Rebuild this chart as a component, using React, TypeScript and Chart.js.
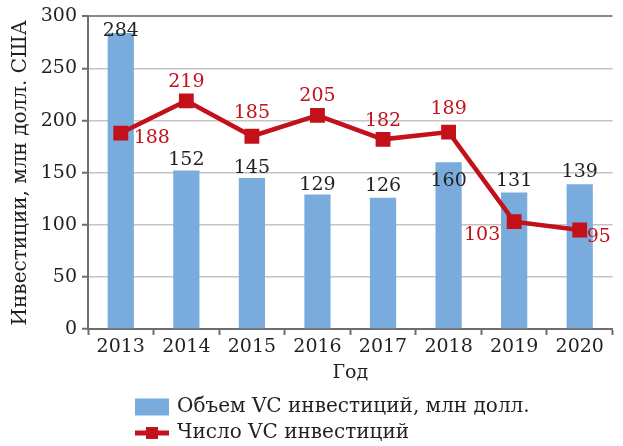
import { useEffect, useRef } from "react";
import { Chart, registerables } from "chart.js";

Chart.register(...registerables);

// ---- data ----
const years = ["2013", "2014", "2015", "2016", "2017", "2018", "2019", "2020"];
const volume = [284, 152, 145, 129, 126, 160, 131, 139];
const counts = [188, 219, 185, 205, 182, 189, 103, 95];
const yMin = 0;
const yMax = 300;
const yStep = 50;
const volumeLabel = "Объем VC инвестиций, млн долл.";
const countLabel = "Число VC инвестиций";
const xTitle = "Год";
const yTitle = "Инвестиции, млн долл. США";

// ---- label placement (style) ----
const barLabelDy = [-2, -11, -10, -10, -12, 19, -11, -12];
const lineLabelOffset: [number, number][] = [
  [31, 5],
  [0, -19],
  [0, -23],
  [0, -19],
  [0, -18],
  [0, -23],
  [-32, 13],
  [19, 7],
];

// ---- styles ----
const FONT = "'DejaVu Serif', serif";
const FS = 19;
const FS_BIG = 20;
const TEXT = "#231f20";
const BLUE = "#79acdd";
const RED = "#c2111b";
const AXIS = "#6d6e71";
const GRID = "#c4c4c4";

const labelPlugin = {
  id: "valueLabels",
  afterDatasetsDraw(chart: any) {
    const ctx = chart.ctx;
    ctx.save();
    ctx.font = `${FS}px ${FONT}`;
    ctx.textBaseline = "middle";
    ctx.textAlign = "center";
    const barMeta = chart.getDatasetMeta(0);
    barMeta.data.forEach((el: any, i: number) => {
      ctx.fillStyle = TEXT;
      ctx.fillText(String(volume[i]), el.x, el.y + barLabelDy[i]);
    });
    const lineMeta = chart.getDatasetMeta(1);
    lineMeta.data.forEach((el: any, i: number) => {
      const [dx, dy] = lineLabelOffset[i];
      ctx.fillStyle = RED;
      ctx.fillText(String(counts[i]), el.x + dx, el.y + dy);
    });
    ctx.restore();
  },
};

const legendPlugin = {
  id: "customLegend",
  afterDraw(chart: any) {
    const ctx = chart.ctx;
    ctx.save();
    ctx.font = `${FS_BIG}px ${FONT}`;
    ctx.textBaseline = "middle";
    ctx.textAlign = "left";
    const x0 = 135;
    const boxW = 34;
    const tx = 177;
    const y1 = 407;
    const y2 = 433;
    ctx.fillStyle = BLUE;
    ctx.fillRect(x0, y1 - 8.5, boxW, 17);
    ctx.fillStyle = TEXT;
    ctx.fillText(volumeLabel, tx, y1);
    ctx.strokeStyle = RED;
    ctx.lineWidth = 5;
    ctx.beginPath();
    ctx.moveTo(x0, y2);
    ctx.lineTo(x0 + boxW, y2);
    ctx.stroke();
    ctx.fillStyle = RED;
    ctx.fillRect(x0 + boxW / 2 - 6, y2 - 6, 12, 12);
    ctx.fillStyle = TEXT;
    ctx.fillText(countLabel, tx, y2);
    ctx.restore();
  },
};

export default function App() {
  const ref = useRef<HTMLCanvasElement | null>(null);
  useEffect(() => {
    if (!ref.current) return;
    const chart = new Chart(ref.current, {
      type: "bar",
      data: {
        labels: years,
        datasets: [
          {
            type: "bar",
            label: volumeLabel,
            data: volume,
            backgroundColor: BLUE,
            borderWidth: 0,
            barPercentage: 0.4,
            categoryPercentage: 1,
            order: 2,
          } as any,
          {
            type: "line",
            label: countLabel,
            data: counts,
            borderColor: RED,
            backgroundColor: RED,
            borderWidth: 4.5,
            pointStyle: "rect",
            pointRadius: 10.5,
            pointBorderWidth: 0,
            pointBackgroundColor: RED,
            tension: 0,
            order: 1,
          } as any,
        ],
      },
      options: {
        responsive: false,
        animation: false,
        layout: { padding: { top: 15, right: 0, bottom: 57, left: 0 } },
        plugins: {
          legend: { display: false },
          tooltip: { enabled: false },
          title: { display: false },
        },
        scales: {
          x: {
            offset: true,
            grid: {
              display: true,
              offset: true,
              drawOnChartArea: false,
              drawTicks: true,
              tickLength: 6,
              tickColor: AXIS,
              tickWidth: 2,
            },
            border: { display: true, color: AXIS, width: 2 },
            ticks: { color: TEXT, font: { family: FONT, size: FS }, padding: 1 },
            title: {
              display: true,
              text: xTitle,
              color: TEXT,
              font: { family: FONT, size: FS },
              padding: { top: 0, bottom: 5 },
            },
            afterFit: (s: any) => {
              s.height = 60;
            },
          },
          y: {
            min: yMin,
            max: yMax,
            ticks: {
              stepSize: yStep,
              color: TEXT,
              font: { family: FONT, size: FS },
              padding: 5,
            },
            grid: {
              color: (c: any) => (c.tick && c.tick.value === yMax ? "#8a8a8a" : GRID),
              lineWidth: (c: any) => (c.tick && c.tick.value === yMax ? 2 : 1.5),
              drawTicks: true,
              tickLength: 6,
              tickColor: AXIS,
              tickWidth: 2,
            },
            border: { display: true, color: AXIS, width: 2 },
            title: {
              display: true,
              text: yTitle,
              color: TEXT,
              font: { family: FONT, size: FS_BIG },
              padding: { top: 9, bottom: 0 },
            },
            afterFit: (s: any) => {
              s.width = 88;
            },
          },
        },
      } as any,
      plugins: [labelPlugin, legendPlugin],
    });
    return () => chart.destroy();
  }, []);
  return (
    <div style={{ position: "fixed", left: 0, top: 0, width: 623, height: 446, background: "#fff" }}>
      <canvas ref={ref} width={623} height={446} style={{ display: "block" }} />
    </div>
  );
}
